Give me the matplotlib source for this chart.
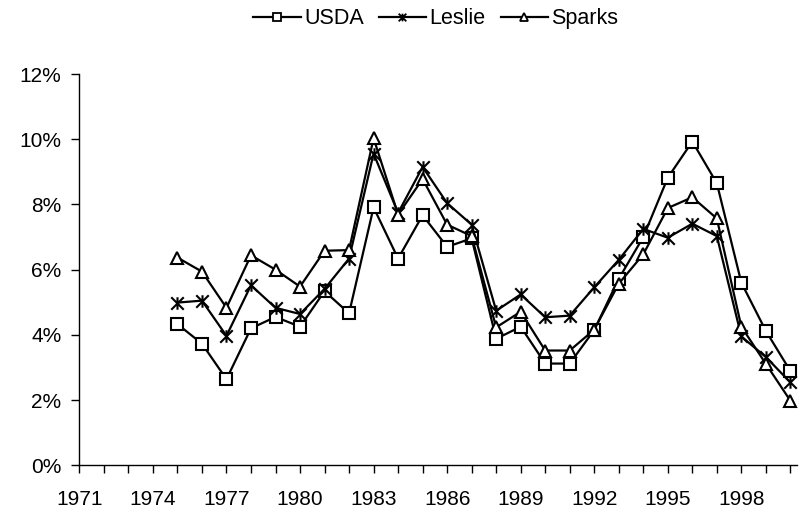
import matplotlib
matplotlib.use("Agg")
import matplotlib.pyplot as plt
from matplotlib.path import Path
from matplotlib.ticker import FuncFormatter, MultipleLocator

plt.rcParams['font.family'] = ['Liberation Sans', 'DejaVu Sans']

years = list(range(1975, 2001))
usda = [4.33, 3.73, 2.64, 4.20, 4.55, 4.25, 5.34, 4.66, 7.91, 6.34,
        7.67, 6.70, 6.96, 3.88, 4.25, 3.12, 3.12, 4.15, 5.72, 7.00,
        8.82, 9.93, 8.65, 5.60, 4.12, 2.89]
leslie = [4.99, 5.05, 3.97, 5.52, 4.83, 4.64, 5.41, 6.34, 9.56, 7.74,
          9.15, 8.04, 7.38, 4.74, 5.24, 4.54, 4.59, 5.46, 6.30, 7.25,
          6.98, 7.41, 7.03, 3.95, 3.32, 2.54]
sparks = [6.37, 5.94, 4.83, 6.44, 6.00, 5.48, 6.58, 6.60, 10.03, 7.69,
          8.78, 7.38, 7.03, 4.23, 4.71, 3.52, 3.52, 4.16, 5.57, 6.47,
          7.89, 8.22, 7.57, 4.25, 3.11, 1.98]
series_names = ["USDA", "Leslie", "Sparks"]
xtick_labels = list(range(1971, 2000, 3))

star = Path([(0, -1), (0, 1), (-1, -1), (1, 1), (-1, 1), (1, -1)],
            [Path.MOVETO, Path.LINETO, Path.MOVETO, Path.LINETO, Path.MOVETO, Path.LINETO])

fig = plt.figure(figsize=(8.04, 5.13), dpi=100)
ax = fig.add_axes([0.0987, 0.093, 0.892, 0.7627])

common = dict(color='black', lw=1.6, markerfacecolor='white', markeredgecolor='black',
              markeredgewidth=1.5, clip_on=False)
ax.plot(years, usda, marker='s', markersize=8, label=series_names[0], **common)
ax.plot(years, leslie, marker=star, markersize=9, label=series_names[1], **common)
ax.plot(years, sparks, marker='^', markersize=8.5, label=series_names[2], **common)

ax.set_xlim(1971, 2000.25)
ax.set_ylim(0, 12)
ax.set_xticks(list(range(1971, 2001)))
ax.set_xticklabels([str(y) if y in xtick_labels else '' for y in range(1971, 2001)])
ax.yaxis.set_major_locator(MultipleLocator(2))
ax.yaxis.set_major_formatter(FuncFormatter(lambda v, p: f"{int(round(v))}%"))

for s in ['top', 'right']:
    ax.spines[s].set_visible(False)
for s in ['left', 'bottom']:
    ax.spines[s].set_linewidth(1.0)
    ax.spines[s].set_color('black')
ax.tick_params(axis='both', direction='out', length=6, width=1.0, labelsize=15, colors='black')
ax.tick_params(axis='x', pad=12)
ax.tick_params(axis='y', pad=7)

leg = fig.legend(loc='center', bbox_to_anchor=(0.542, 1 - 19 / 513), ncol=3, frameon=False,
                 fontsize=15.5, handlelength=2.2, handletextpad=0.15, columnspacing=0.7,
                 borderpad=0, borderaxespad=0)
for h in leg.legend_handles:
    h.set_markersize(5.5)
    h.set_markeredgewidth(1.3)

fig.savefig("out.png", dpi=100)
